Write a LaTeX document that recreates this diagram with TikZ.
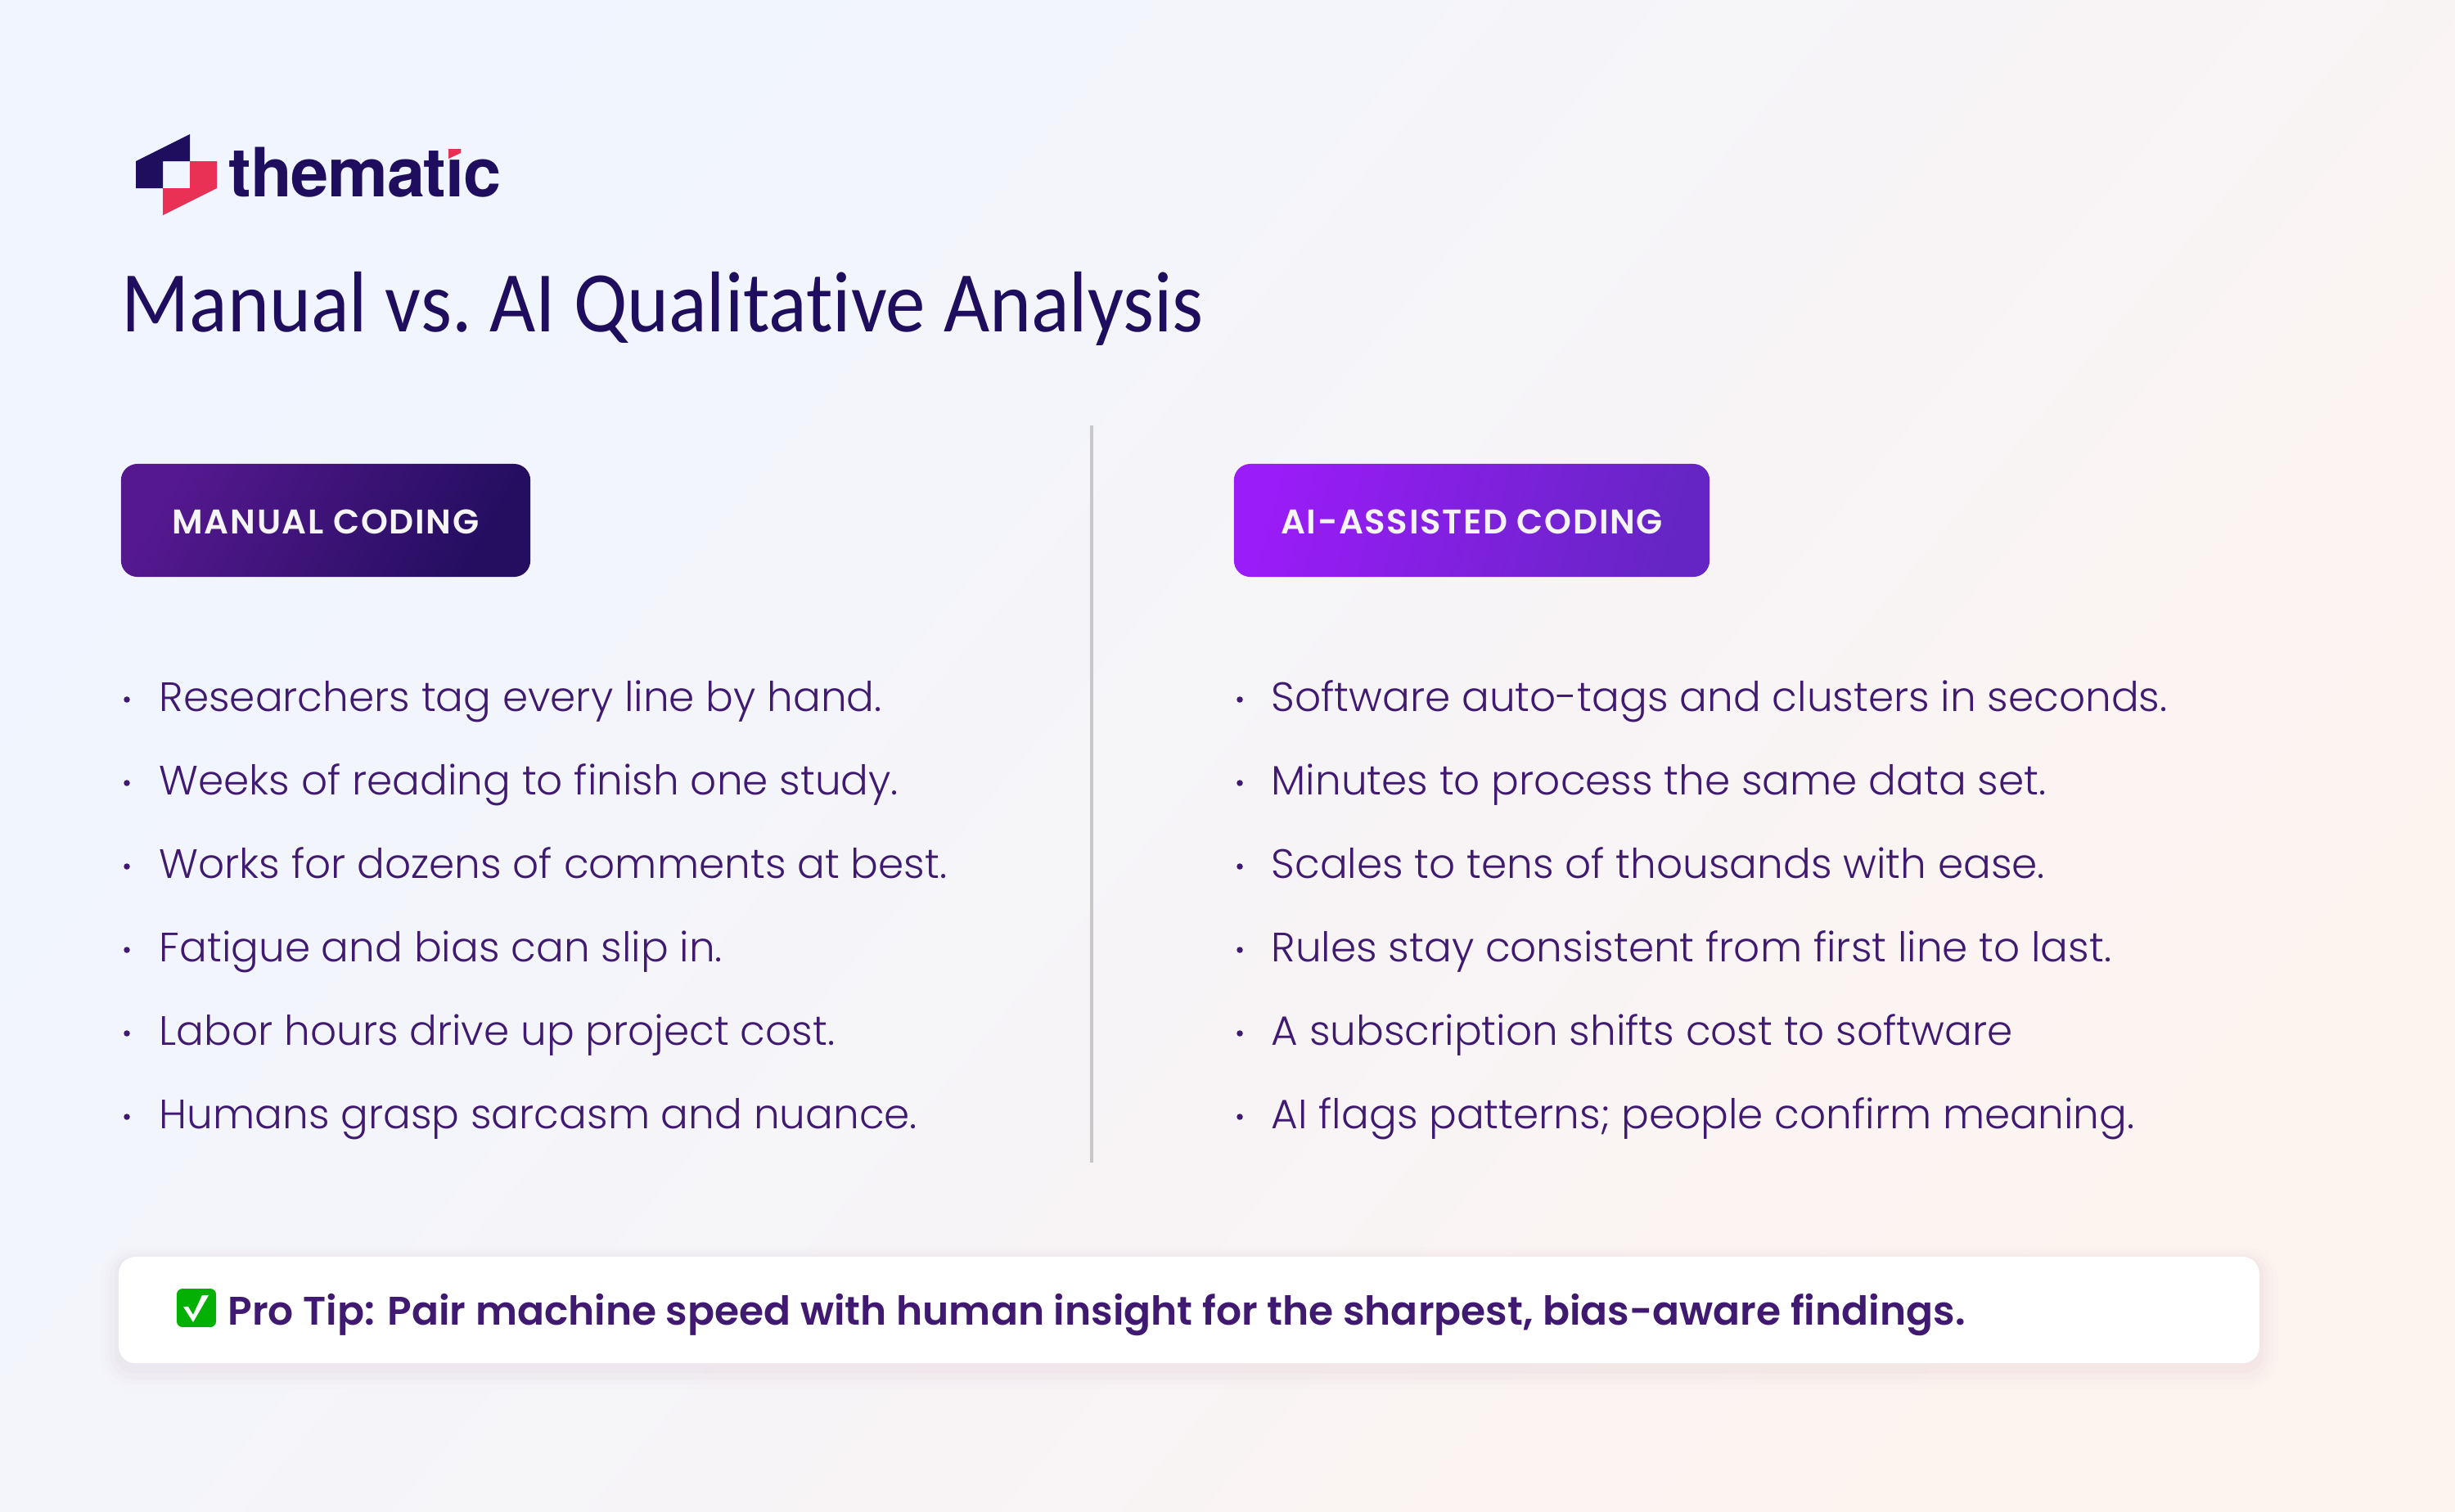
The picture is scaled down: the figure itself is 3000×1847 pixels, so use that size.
\documentclass[tikz,border=0pt]{standalone}
\usepackage{fontspec}
\setmainfont{Poppins Light}
\newfontfamily\titlefont[FakeStretch=0.92,Ligatures=NoCommon]{Carlito}
\newfontfamily\logofont[LetterSpace=-1.5]{TeX Gyre Heros Bold}
\newfontfamily\tipfont{Poppins SemiBold}
\newfontfamily\badgefont[LetterSpace=4]{Poppins SemiBold}
\definecolor{ink}{HTML}{3F1A70}
\definecolor{navy}{HTML}{1F0D5E}
\definecolor{rose}{HTML}{E93055}
\definecolor{paperA}{HTML}{F0F5FF}
\definecolor{paperB}{HTML}{FDF4F0}
\definecolor{manualA}{HTML}{55188F}
\definecolor{manualB}{HTML}{240E60}
\definecolor{aiA}{HTML}{9A1CF8}
\definecolor{aiB}{HTML}{6525C4}
\definecolor{checkgreen}{HTML}{05B005}
\definecolor{glow}{HTML}{A05A78}
\usetikzlibrary{positioning}
\begin{document}
\begin{tikzpicture}[
    x=0.01cm, y=-0.01cm,
    item/.style={anchor=base west, inner sep=0pt, text=ink, font=\fontsize{14.25}{18}\selectfont},
    point/.style={circle, fill=ink, inner sep=0pt, minimum size=0.075cm},
    badge/.style={rounded corners=0.2cm, minimum height=1.38cm, inner sep=0pt, text=white!96!black,
        text height=0.33cm, text depth=0cm, font=\badgefont\fontsize{11.9}{14}\selectfont}
]
\shade[left color=paperA, right color=paperB, shading angle=50] (0,0) rectangle (3000,1847);

% logo
\fill[navy] (166,197) -- (232,164) -- (232,197) -- (199,197) -- (199,230) -- (166,230) -- cycle;
\fill[rose] (232,197) -- (265,197) -- (265,230) -- (199,263) -- (199,230) -- (232,230) -- cycle;
\node[anchor=base west, inner sep=0pt, text=navy, font=\logofont\fontsize{23.6}{26}\selectfont] (logo) at (279,240) {themat\char"0131 c};
\fill[rose] (548,182) -- (563,182) -- (563,187) -- (548,194) -- cycle;

\node[anchor=base west, inner sep=0pt, text=navy, font=\titlefont\fontsize{30}{34}\selectfont] (title) at (148,405) {\frenchspacing Manual vs. AI Qualitative Analysis};

\draw[line width=0.035cm, black!22] (1334,520) -- (1334,1421);

% left column
\node[badge, minimum width=5.00cm, left color=manualA, right color=manualB, shading angle=60] (manual) at (398,636) {MANUAL CODING};
\node[point] (m1dot) at (155,855) {};
\node[item] (m1) at (194,869) {Researchers tag every line by hand.};
\node[point] (m2dot) at (155,957) {};
\node[item] (m2) at (194,971) {Weeks of reading to finish one study.};
\node[point] (m3dot) at (155,1059) {};
\node[item] (m3) at (194,1073) {Works for dozens of comments at best.};
\node[point] (m4dot) at (155,1161) {};
\node[item] (m4) at (194,1175) {Fatigue and bias can slip in.};
\node[point] (m5dot) at (155,1263) {};
\node[item] (m5) at (194,1277) {Labor hours drive up project cost.};
\node[point] (m6dot) at (155,1365) {};
\node[item] (m6) at (194,1379) {Humans grasp sarcasm and nuance.};

% right column
\node[badge, minimum width=5.81cm, left color=aiA, right color=aiB, shading angle=75] (ai) at (1798.5,636) {AI-ASSISTED CODING};
\node[point] (a1dot) at (1515,855) {};
\node[item] (a1) at (1553,869) {Software auto-tags and clusters in seconds.};
\node[point] (a2dot) at (1515,957) {};
\node[item] (a2) at (1553,971) {Minutes to process the same data set.};
\node[point] (a3dot) at (1515,1059) {};
\node[item] (a3) at (1553,1073) {Scales to tens of thousands with ease.};
\node[point] (a4dot) at (1515,1161) {};
\node[item] (a4) at (1553,1175) {Rules stay consistent from first line to last.};
\node[point] (a5dot) at (1515,1263) {};
\node[item] (a5) at (1553,1277) {A subscription shifts cost to software};
\node[point] (a6dot) at (1515,1365) {};
\node[item] (a6) at (1553,1379) {AI flags patterns; people confirm meaning.};

% tip
\fill[glow, opacity=0.012, rounded corners=0.4cm] (122,1524) rectangle (2784,1698);
\fill[glow, opacity=0.016, rounded corners=0.35cm] (128,1528) rectangle (2778,1692);
\fill[glow, opacity=0.02, rounded corners=0.3cm] (134,1532) rectangle (2772,1686);
\fill[glow, opacity=0.026, rounded corners=0.25cm] (140,1535) rectangle (2766,1679);
\node[fill=white, rounded corners=0.2cm, minimum width=26.14cm, minimum height=1.30cm, inner sep=0pt] (card) at (1453,1601) {};
\node[fill=checkgreen, rounded corners=0.07cm, minimum width=0.48cm, minimum height=0.47cm, inner sep=0pt] (check) at (240,1598.5) {};
\fill[white] (224,1597) -- (230,1597) -- (236,1607) -- (247,1583) -- (255,1583) -- (236,1616) -- cycle;
\node[anchor=base west, inner sep=0pt, text=ink, font=\tipfont\fontsize{13.85}{18}\selectfont] (tiptext) at (278,1619) {Pro Tip: Pair machine speed with human insight for the sharpest, bias-aware findings.};
\end{tikzpicture}
\end{document}
